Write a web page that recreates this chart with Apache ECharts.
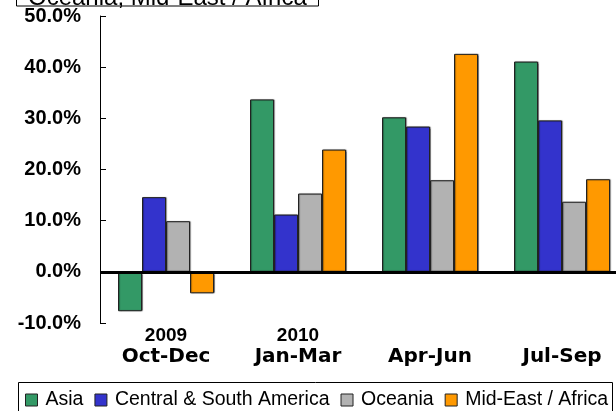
<!DOCTYPE html>
<html>
<head>
<meta charset="utf-8">
<script src="https://cdn.jsdelivr.net/npm/echarts@6/dist/echarts.min.js"></script>
<style>
  html, body { margin: 0; padding: 0; background: #fff; }
  #chart { width: 616px; height: 411px; }
</style>
</head>
<body>
<div id="chart"></div>
<script>
// Quarterly growth rates by region (%)
var categories = ['2009\nOct-Dec', '2010\nJan-Mar', '\nApr-Jun', '\nJul-Sep'];
var seriesNames = ['Asia', 'Central & South America', 'Oceania', 'Mid-East / Africa'];
var asia = [-7.7, 33.7, 30.2, 41.1];
var centralSouthAmerica = [14.6, 11.2, 28.4, 29.6];
var oceania = [9.9, 15.3, 17.9, 13.7];
var midEastAfrica = [-4.2, 23.9, 42.6, 18.1];
var seriesColors = ['#339966', '#3333CC', '#B2B2B2', '#FF9900'];
var titleText = 'Oceania, Mid-East / Africa';

var chart = echarts.init(document.getElementById('chart'), null, { renderer: 'canvas' });

function barSeries(name, data, color) {
  return {
    name: name,
    type: 'bar',
    data: data,
    barWidth: 24,
    barGap: '0%',
    itemStyle: {
      color: color,
      borderColor: '#222',
      borderWidth: 1,
      shadowColor: 'rgba(0,0,0,0.35)',
      shadowBlur: 1,
      shadowOffsetX: 1,
      shadowOffsetY: 0
    },
    emphasis: { disabled: true }
  };
}

var option = {
  animation: false,
  backgroundColor: '#ffffff',
  // plot area runs past the right edge of the canvas
  grid: {
    left: 100, top: 16, width: 528, bottom: 88,
    containLabel: false,
    outerBoundsMode: 'none'
  },
  xAxis: {
    type: 'category',
    data: categories,
    axisLine: { show: false },
    axisTick: { show: false },
    axisLabel: {
      interval: 0,
      margin: 2,
      formatter: function (v) {
        var parts = v.split('\n');
        return '{y|' + parts[0] + '}\n{q|' + parts[1] + '}';
      },
      rich: {
        y: { fontFamily: 'Liberation Sans', fontWeight: 'bold', fontSize: 19, lineHeight: 21, color: '#000' },
        q: { fontFamily: 'DejaVu Sans', fontWeight: 'bold', fontSize: 20, lineHeight: 21, color: '#000' }
      }
    }
  },
  yAxis: {
    type: 'value',
    min: -10,
    max: 50,
    interval: 10,
    axisLine: { show: true, lineStyle: { color: '#000', width: 1 } },
    axisTick: { show: true, inside: true, length: 6, lineStyle: { color: '#000', width: 1 } },
    splitLine: { show: false },
    axisLabel: {
      margin: 19,
      color: '#000',
      fontFamily: 'Liberation Sans',
      fontWeight: 'bold',
      fontSize: 20,
      formatter: function (v) { return v.toFixed(1) + '%'; }
    }
  },
  legend: {
    data: seriesNames,
    left: 20,
    top: 385,
    icon: 'rect',
    itemWidth: 12,
    itemHeight: 12,
    itemGap: 11,
    itemStyle: { borderColor: '#222', borderWidth: 1, shadowBlur: 0, shadowOffsetX: 0 },
    textStyle: { fontFamily: 'Liberation Sans', fontSize: 19.5, color: '#000', padding: [0, 0, 0, 3] },
    selectedMode: false
  },
  series: [
    barSeries(seriesNames[0], asia, seriesColors[0]),
    barSeries(seriesNames[1], centralSouthAmerica, seriesColors[1]),
    barSeries(seriesNames[2], oceania, seriesColors[2]),
    barSeries(seriesNames[3], midEastAfrica, seriesColors[3]),
    {
      // zero baseline drawn above the bars
      name: 'zero',
      type: 'line',
      data: [],
      z: 10,
      silent: true,
      markLine: {
        silent: true,
        symbol: ['none', 'none'],
        label: { show: false },
        lineStyle: { color: '#000', width: 3, type: 'solid' },
        data: [{ yAxis: 0 }]
      }
    }
  ],
  graphic: [
    {
      type: 'rect',
      shape: { x: 16.5, y: -40, width: 302, height: 46 },
      style: { fill: '#fff', stroke: '#000', lineWidth: 1 },
      z: 5
    },
    {
      type: 'text',
      x: 28,
      y: 10,
      style: {
        text: titleText,
        fontFamily: 'Liberation Sans',
        fontSize: 24,
        fill: '#000',
        verticalAlign: 'bottom'
      },
      z: 6
    },
    {
      type: 'rect',
      shape: { x: 18.5, y: 382.5, width: 594, height: 40 },
      style: { fill: 'none', stroke: '#000', lineWidth: 1 },
      z: 1
    }
  ]
};

chart.setOption(option);
</script>
</body>
</html>
